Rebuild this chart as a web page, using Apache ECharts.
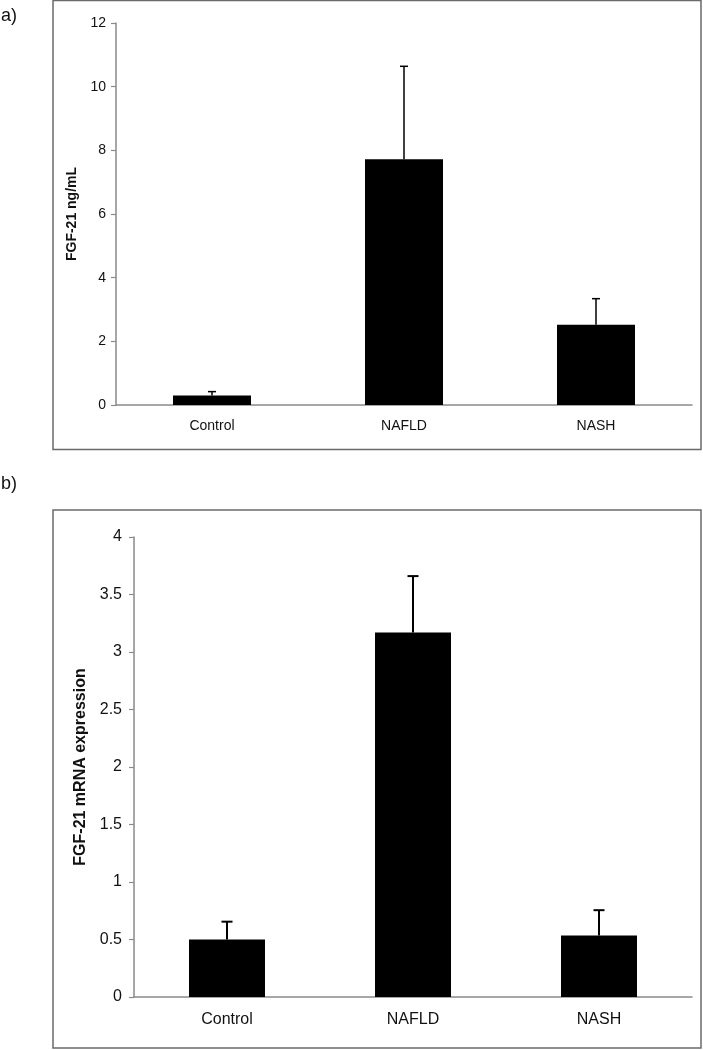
<!DOCTYPE html>
<html>
<head>
<meta charset="utf-8">
<script src="https://cdn.jsdelivr.net/npm/echarts@6/dist/echarts.min.js"></script>
<style>
html,body{margin:0;padding:0;background:#fff;}
#c{width:703px;height:1050px;}
</style>
</head>
<body>
<div id="c"></div>
<script>
var categories = ['Control', 'NAFLD', 'NASH'];
var serumValues = [0.3, 7.72, 2.52];
var serumErrors = [0.12, 2.92, 0.82];
var mrnaValues = [0.5, 3.17, 0.535];
var mrnaErrors = [0.155, 0.49, 0.22];
var serumTicks = {min: 0, max: 12, interval: 2};
var mrnaTicks = {min: 0, max: 4, interval: 0.5};

var FONT = 'Liberation Sans, Arial, sans-serif';
var AXIS_COLOR = '#8a8a8a';

function errData(vals, errs) {
  return vals.map(function (v, i) { return [i, v, v + errs[i]]; });
}
function errRender(capW, lw) {
  return function (params, api) {
    var x = api.value(0);
    var lo = api.coord([x, api.value(1)]);
    var hi = api.coord([x, api.value(2)]);
    return {
      type: 'group',
      children: [
        {type: 'line', shape: {x1: lo[0], y1: lo[1], x2: hi[0], y2: hi[1]}, style: {stroke: '#000', lineWidth: lw}},
        {type: 'line', shape: {x1: hi[0] - capW / 2, y1: hi[1], x2: hi[0] + capW / 2, y2: hi[1]}, style: {stroke: '#000', lineWidth: lw}}
      ]
    };
  };
}

var chart = echarts.init(document.getElementById('c'), null, {renderer: 'canvas'});
chart.setOption({
  backgroundColor: '#fff',
  animation: false,
  graphic: [
    {type: 'rect', shape: {x: 53, y: 0.5, width: 648, height: 449}, style: {fill: 'none', stroke: '#6a6a6a', lineWidth: 1.5}},
    {type: 'rect', shape: {x: 53, y: 510, width: 648, height: 538}, style: {fill: 'none', stroke: '#6a6a6a', lineWidth: 1.5}},
    {type: 'text', left: 1, top: 7, style: {text: 'a)', font: '18px ' + FONT, fill: '#111'}},
    {type: 'text', left: 1, top: 475, style: {text: 'b)', font: '18px ' + FONT, fill: '#111'}}
  ],
  grid: [
    {left: 116, right: 11, top: 23, height: 382},
    {left: 134, right: 11, top: 537, height: 460}
  ],
  xAxis: [
    {type: 'category', gridIndex: 0, data: categories,
     axisLine: {lineStyle: {color: AXIS_COLOR, width: 1.5}},
     axisTick: {length: 5, lineStyle: {color: AXIS_COLOR, width: 1.2}},
     axisLabel: {color: '#111', fontSize: 14, fontFamily: FONT, margin: 14}},
    {type: 'category', gridIndex: 1, data: categories,
     axisLine: {lineStyle: {color: AXIS_COLOR, width: 1.5}},
     axisTick: {length: 5, lineStyle: {color: AXIS_COLOR, width: 1.2}},
     axisLabel: {color: '#111', fontSize: 16, fontFamily: FONT, margin: 15}}
  ],
  yAxis: [
    {type: 'value', gridIndex: 0, min: serumTicks.min, max: serumTicks.max, interval: serumTicks.interval,
     name: 'FGF-21 ng/mL', nameLocation: 'middle', nameRotate: 90, nameGap: 31,
     nameTextStyle: {fontSize: 14, fontWeight: 'bold', fontFamily: FONT, color: '#111'},
     axisLine: {show: true, lineStyle: {color: AXIS_COLOR, width: 1.5}},
     axisTick: {show: true, length: 5, lineStyle: {color: AXIS_COLOR, width: 1.2}},
     splitLine: {show: false},
     axisLabel: {color: '#111', fontSize: 14, fontFamily: FONT, margin: 10}},
    {type: 'value', gridIndex: 1, min: mrnaTicks.min, max: mrnaTicks.max, interval: mrnaTicks.interval,
     name: 'FGF-21 mRNA expression', nameLocation: 'middle', nameRotate: 90, nameGap: 43,
     nameTextStyle: {fontSize: 16, fontWeight: 'bold', fontFamily: FONT, color: '#111'},
     axisLine: {show: true, lineStyle: {color: AXIS_COLOR, width: 1.5}},
     axisTick: {show: true, length: 5, lineStyle: {color: AXIS_COLOR, width: 1.2}},
     splitLine: {show: false},
     axisLabel: {color: '#111', fontSize: 16, fontFamily: FONT, margin: 12}}
  ],
  series: [
    {type: 'bar', xAxisIndex: 0, yAxisIndex: 0, data: serumValues, barWidth: 78,
     itemStyle: {color: '#000'}, z: 2},
    {type: 'custom', xAxisIndex: 0, yAxisIndex: 0, data: errData(serumValues, serumErrors),
     renderItem: errRender(8, 1.5), z: 3},
    {type: 'bar', xAxisIndex: 1, yAxisIndex: 1, data: mrnaValues, barWidth: 76,
     itemStyle: {color: '#000'}, z: 2},
    {type: 'custom', xAxisIndex: 1, yAxisIndex: 1, data: errData(mrnaValues, mrnaErrors),
     renderItem: errRender(11, 2), z: 3}
  ]
});
</script>
</body>
</html>
